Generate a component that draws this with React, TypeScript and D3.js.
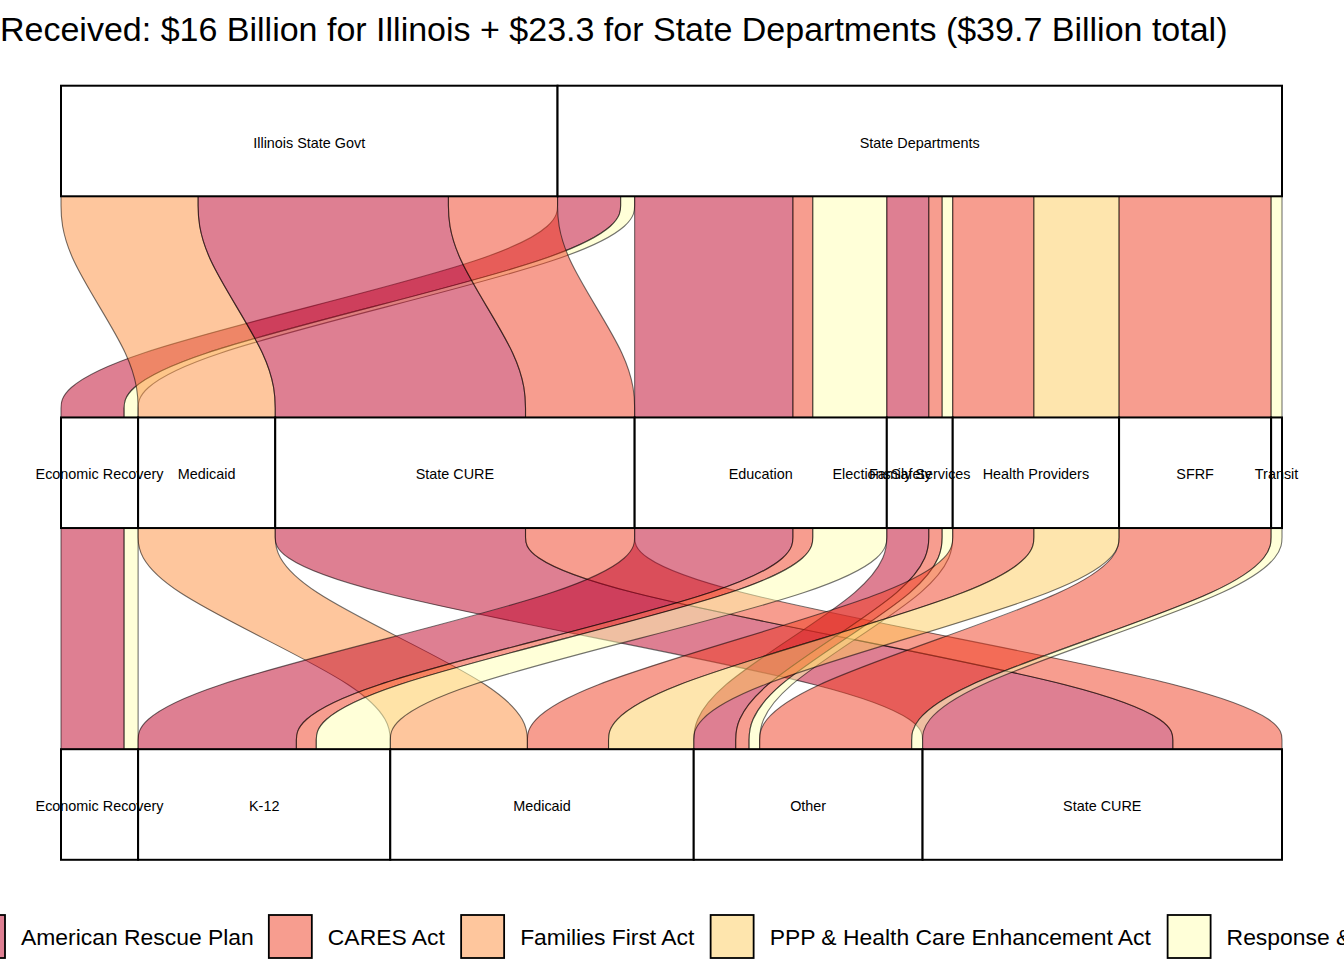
import React, { useMemo } from "react";
import * as d3 from "d3";

const title =
  "Received: $16 Billion for Illinois + $23.3 for State Departments ($39.7 Billion total)";

const funds = [
  "American Rescue Plan",
  "CARES Act",
  "Families First Act",
  "PPP & Health Care Enhancement Act",
  "Response & Relief Act",
];
const fundColors = ["#BD0026", "#F03B20", "#FD8D3C", "#FECC5C", "#FFFFB2"];

const axis1Levels = ["Illinois State Govt", "State Departments"];
const axis2Levels = [
  "Economic Recovery",
  "Medicaid",
  "State CURE",
  "Education",
  "Family Services",
  "Health Providers",
  "SFRF",
  "Transit",
];
const axis3Levels = ["Economic Recovery", "K-12", "Medicaid", "Other", "State CURE"];

// labels that sit on top of the other axis-2 strata (position in $B along the axis)
const axis2ExtraLabels = ["Elections", "Safety"];
const axis2ExtraAt = [25.75, 27.35];

// one entry per alluvium
const flowFund = [
  "American Rescue Plan",
  "Response & Relief Act",
  "Families First Act",
  "American Rescue Plan",
  "CARES Act",
  "American Rescue Plan",
  "CARES Act",
  "Response & Relief Act",
  "American Rescue Plan",
  "CARES Act",
  "Response & Relief Act",
  "CARES Act",
  "PPP & Health Care Enhancement Act",
  "CARES Act",
  "Response & Relief Act",
];
const flowAxis1 = [
  "State Departments",
  "State Departments",
  "Illinois State Govt",
  "Illinois State Govt",
  "Illinois State Govt",
  "State Departments",
  "State Departments",
  "State Departments",
  "State Departments",
  "State Departments",
  "State Departments",
  "State Departments",
  "State Departments",
  "State Departments",
  "State Departments",
];
const flowAxis2 = [
  "Economic Recovery",
  "Economic Recovery",
  "Medicaid",
  "State CURE",
  "State CURE",
  "Education",
  "Education",
  "Education",
  "Family Services",
  "Family Services",
  "Family Services",
  "Health Providers",
  "Health Providers",
  "SFRF",
  "Transit",
];
const flowAxis3 = [
  "Economic Recovery",
  "Economic Recovery",
  "Medicaid",
  "State CURE",
  "State CURE",
  "K-12",
  "K-12",
  "K-12",
  "Other",
  "Other",
  "Other",
  "Medicaid",
  "Medicaid",
  "Other",
  "Other",
];
const flowBillions = [2.03, 0.45, 4.41, 8.05, 3.51, 5.09, 0.64, 2.38, 1.35, 0.43, 0.34, 2.61, 2.74, 4.89, 0.35];

const W = 1344;
const H = 960;
const FONT = "'Liberation Sans', Arial, sans-serif";

function measure(s: string, size: number) {
  const ctx = document.createElement("canvas").getContext("2d");
  if (!ctx) return s.length * size * 0.5;
  ctx.font = `${size}px ${FONT}`;
  return ctx.measureText(s).width;
}

export default function App() {
  const total = d3.sum(flowBillions);
  const x = d3.scaleLinear().domain([0, total]).range([61, 1282]);
  const yAxis = d3.scalePoint<number>().domain([0, 1, 2]).range([141, 804.5]);
  const boxH = yAxis.step() / 3;
  const color = d3.scaleOrdinal<string, string>().domain(funds).range(fundColors);

  const axisCols = [flowAxis1, flowAxis2, flowAxis3];
  const axisLevels = [axis1Levels, axis2Levels, axis3Levels];

  // stack lodes within each stratum, strata in level order
  const layout = useMemo(() => {
    return axisCols.map((col, a) => {
      const levels = axisLevels[a];
      const starts: number[] = new Array(col.length).fill(0);
      const strata: { name: string; start: number; end: number }[] = [];
      let cum = 0;
      levels.forEach((lv) => {
        const s0 = cum;
        col.forEach((c, i) => {
          if (c === lv) {
            starts[i] = cum;
            cum += flowBillions[i];
          }
        });
        strata.push({ name: lv, start: s0, end: cum });
      });
      return { starts, strata };
    });
  }, []);

  const edge = d3.line<[number, number]>().curve(d3.curveBasis);

  const flows: { d: string; fill: string; key: string }[] = [];
  for (let a = 0; a < 2; a++) {
    const y0 = (yAxis(a) as number) + boxH / 2;
    const y1 = (yAxis(a + 1) as number) - boxH / 2;
    const g = y1 - y0;
    flowBillions.forEach((v, i) => {
      const x0s = x(layout[a].starts[i]);
      const x0e = x(layout[a].starts[i] + v);
      const x1s = x(layout[a + 1].starts[i]);
      const x1e = x(layout[a + 1].starts[i] + v);
      const left = edge([
        [x0s, y0],
        [x0s, y0 + g / 4],
        [x1s, y1 - g / 4],
        [x1s, y1],
      ]) as string;
      const right = edge([
        [x1e, y1],
        [x1e, y1 - g / 4],
        [x0e, y0 + g / 4],
        [x0e, y0],
      ]) as string;
      flows.push({ d: left + "L" + right.slice(1) + "Z", fill: color(flowFund[i]), key: `${a}-${i}` });
    });
  }

  // legend
  const legendSize = 22.9;
  const keyW = 43;
  let lx = -38;
  const legendItems = funds.map((f) => {
    const item = { f, keyX: lx, textX: lx + keyW + 16 };
    lx = item.textX + measure(f, legendSize) + 15;
    return item;
  });

  return (
    <svg
      width={W}
      height={H}
      style={{ position: "absolute", left: 0, top: 0, background: "#fff" }}
      fontFamily={FONT}
    >
      <text x={0} y={41} fontSize={34} fill="#000">
        {title}
      </text>

      <g>
        {flows.map((f) => (
          <path
            key={f.key}
            d={f.d}
            fill={f.fill}
            fillOpacity={0.5}
            stroke="#000"
            strokeOpacity={0.55}
            strokeWidth={1.1}
          />
        ))}
      </g>

      {layout.map((ax, a) => (
        <g key={`ax${a}`}>
          {ax.strata.map((s) => (
            <rect
              key={s.name}
              x={x(s.start)}
              y={(yAxis(a) as number) - boxH / 2}
              width={x(s.end) - x(s.start)}
              height={boxH}
              fill="#fff"
              stroke="#000"
              strokeWidth={2}
            />
          ))}
        </g>
      ))}

      {layout.map((ax, a) => (
        <g key={`lab${a}`} fontSize={14.4} textAnchor="middle">
          {ax.strata.map((s) => (
            <text key={s.name} x={x((s.start + s.end) / 2)} y={(yAxis(a) as number) + 1.5} dy="0.35em">
              {s.name}
            </text>
          ))}
          {a === 1 &&
            axis2ExtraLabels.map((l, i) => (
              <text key={l} x={x(axis2ExtraAt[i])} y={(yAxis(a) as number) + 1.5} dy="0.35em">
                {l}
              </text>
            ))}
        </g>
      ))}

      <g>
        {legendItems.map((it) => (
          <g key={it.f}>
            <rect
              x={it.keyX}
              y={915}
              width={keyW}
              height={43}
              fill={color(it.f)}
              fillOpacity={0.5}
              stroke="#000"
              strokeWidth={1.8}
            />
            <text x={it.textX} y={937} dy="0.35em" fontSize={legendSize}>
              {it.f}
            </text>
          </g>
        ))}
      </g>
    </svg>
  );
}
